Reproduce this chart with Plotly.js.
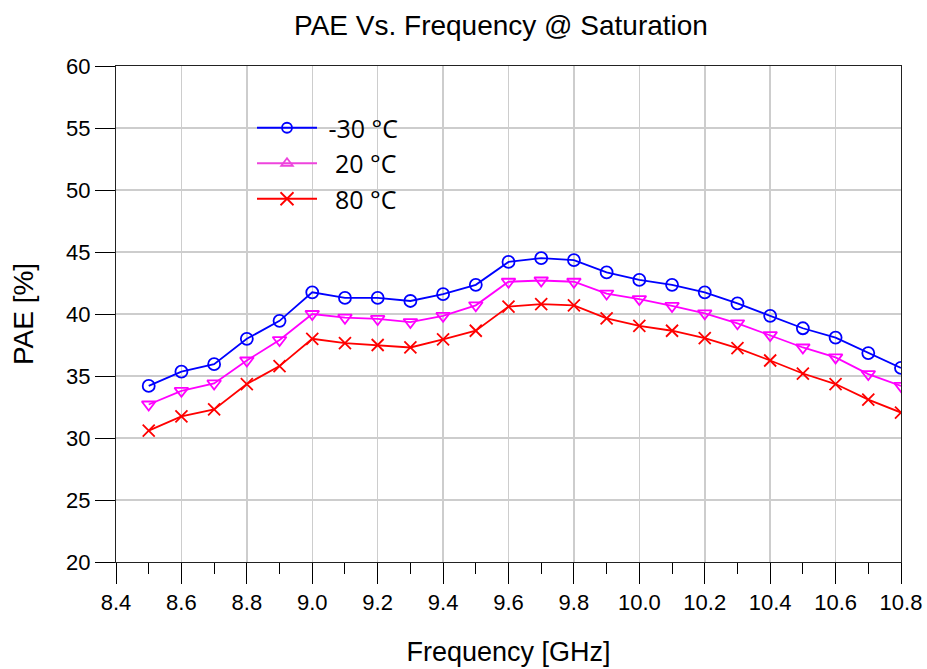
<!DOCTYPE html>
<html>
<head>
<meta charset="utf-8">
<script src="https://cdn.plot.ly/plotly-3.0.1.min.js"></script>
<style>html,body{margin:0;padding:0;background:#fff;}#chart{width:927px;height:669px;}</style>
</head>
<body>
<div id="chart"></div>
<script>
const freqGHz = [8.5, 8.6, 8.7, 8.8, 8.9, 9.0, 9.1, 9.2, 9.3, 9.4, 9.5, 9.6,
                 9.7, 9.8, 9.9, 10.0, 10.1, 10.2, 10.3, 10.4, 10.5, 10.6, 10.7, 10.8];
const paeMinus30 = [34.2, 35.35, 35.95, 38.0, 39.45, 41.75, 41.3, 41.3, 41.05, 41.6, 42.35, 44.2,
                    44.5, 44.35, 43.35, 42.75, 42.35, 41.75, 40.85, 39.85, 38.85, 38.1, 36.85, 35.65];
const pae20 = [32.7, 33.8, 34.4, 36.25, 37.9, 40.0, 39.7, 39.6, 39.35, 39.85, 40.7, 42.6,
               42.7, 42.6, 41.65, 41.2, 40.65, 40.05, 39.25, 38.3, 37.3, 36.5, 35.15, 34.2];
const pae80 = [30.6, 31.75, 32.3, 34.35, 35.8, 38.0, 37.65, 37.5, 37.3, 37.95, 38.65, 40.6,
               40.8, 40.7, 39.65, 39.05, 38.65, 38.05, 37.25, 36.25, 35.2, 34.35, 33.1, 32.05];
const seriesNames = ['\u00a0-30 °C', '\u00a0\u00a020 °C', '\u00a0\u00a080 °C'];
const yTicks = [20, 25, 30, 35, 40, 45, 50, 55, 60];
const xTicks = [8.4, 8.6, 8.8, 9.0, 9.2, 9.4, 9.6, 9.8, 10.0, 10.2, 10.4, 10.6, 10.8];

const BLUE = '#0000ff', MAG = '#ff00ff', RED = '#ff0000';

function plotTrace(y, color, symbol, size) {
  return {x: freqGHz, y: y, type: 'scatter', mode: 'lines+markers', showlegend: false,
    line: {color: color, width: 1.8},
    marker: {symbol: symbol, size: size, color: color, line: {color: color, width: 1.8}},
    hoverinfo: 'x+y'};
}
function legendTrace(name, color, symbol, size, grp) {
  return {x: [null], y: [null], type: 'scatter', mode: 'lines+markers', name: name,
    legendgroup: grp,
    line: {color: color, width: 2.2},
    marker: {symbol: symbol, size: size, color: color, line: {color: color, width: 1.8}}};
}

const data = [
  plotTrace(paeMinus30, BLUE, 'circle-open', 12),
  plotTrace(pae20, MAG, 'triangle-down-open', 12),
  plotTrace(pae80, RED, 'x-thin-open', 12),
  legendTrace(seriesNames[0], BLUE, 'circle-open', 10, 'a'),
  legendTrace(seriesNames[1], '#ee44dd', 'triangle-up-open', 10, 'b'),
  legendTrace(seriesNames[2], RED, 'x-thin-open', 13, 'c')
];

const W = 927, H = 669, L = 116, R = 26, T = 66, B = 107;
const pw = W - L - R, ph = H - T - B;
const px2x = p => (p - L) / pw;
const px2y = p => 1 - (p - T) / ph;

const layout = {
  width: W, height: H,
  margin: {l: L, r: R, t: T, b: B, pad: 0},
  paper_bgcolor: '#ffffff', plot_bgcolor: '#ffffff',
  font: {family: 'Liberation Sans, Arial, sans-serif', color: '#000'},
  title: {text: 'PAE Vs. Frequency @ Saturation', font: {size: 28, color: '#000'},
          x: px2x(501), xref: 'paper', xanchor: 'center', y: 1 - 25 / H, yref: 'container', yanchor: 'middle'},
  xaxis: {
    range: [8.4, 10.8], tickvals: xTicks, tickformat: '.1f',
    ticks: 'outside', ticklen: 21, tickwidth: 1, tickcolor: '#000',
    showline: true, linecolor: '#222', linewidth: 1, mirror: true,
    showgrid: true, gridcolor: '#cdcdcd', gridwidth: 1.5, zeroline: false,
    tickfont: {size: 22},
    minor: {dtick: 0.1, tick0: 8.4, ticks: 'outside', ticklen: 11, tickcolor: '#000', tickwidth: 1, showgrid: false},
    title: {text: 'Frequency [GHz]', font: {size: 27}, standoff: 27}
  },
  yaxis: {
    range: [20, 60], tickvals: yTicks,
    ticks: 'outside', ticklen: 20, tickwidth: 1, tickcolor: '#000',
    showline: true, linecolor: '#222', linewidth: 1, mirror: true,
    showgrid: true, gridcolor: '#cdcdcd', gridwidth: 1.5, zeroline: false,
    tickfont: {size: 22},
    title: {text: 'PAE [%]', font: {size: 28}, standoff: 24}
  },
  shapes: [{type: 'rect', xref: 'paper', yref: 'paper', layer: 'between',
            x0: px2x(228), x1: px2x(425), y0: px2y(231), y1: px2y(98),
            fillcolor: '#ffffff', line: {width: 0}}],
  legend: {x: px2x(252), y: px2y(105), xanchor: 'left', yanchor: 'top',
           bgcolor: 'rgba(0,0,0,0)', borderwidth: 0, itemwidth: 60, tracegroupgap: 0,
           font: {family: 'Open Sans, sans-serif', size: 25, color: '#000'}},
  showlegend: true
};

Plotly.newPlot('chart', data, layout, {displayModeBar: false, staticPlot: true});
</script>
</body>
</html>
